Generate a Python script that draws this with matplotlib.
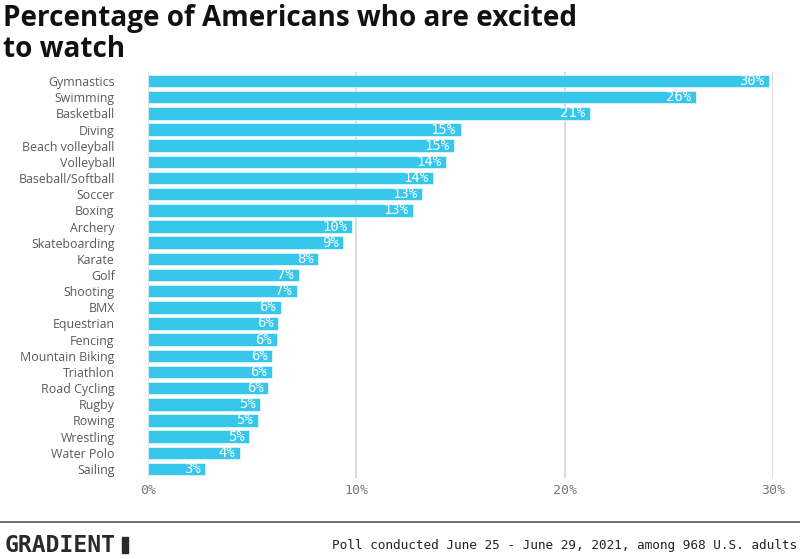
import matplotlib
matplotlib.use("Agg")
import matplotlib.pyplot as plt
from matplotlib.patches import Rectangle
from matplotlib.lines import Line2D

# --- data --------------------------------------------------------------------
sports = ["Gymnastics", "Swimming", "Basketball", "Diving", "Beach volleyball",
          "Volleyball", "Baseball/Softball", "Soccer", "Boxing", "Archery",
          "Skateboarding", "Karate", "Golf", "Shooting", "BMX", "Equestrian",
          "Fencing", "Mountain Biking", "Triathlon", "Road Cycling", "Rugby",
          "Rowing", "Wrestling", "Water Polo", "Sailing"]
excited = [29.8, 26.3, 21.2, 15.0, 14.7, 14.3, 13.7, 13.15, 12.7, 9.8,
           9.37, 8.18, 7.23, 7.13, 6.37, 6.26, 6.19, 5.97, 5.93, 5.76,
           5.38, 5.26, 4.87, 4.42, 2.74]
xticks = [0, 10, 20, 30]

BAR = "#37c6ec"
GREY = "#5a5a5a"
MONO = "DejaVu Sans Mono"

fig = plt.figure(figsize=(8, 5.59), dpi=100)
ax = fig.add_axes([0.185, 0.1449, 0.96625 - 0.185, 0.8712 - 0.1449])

ypos = list(range(len(sports)))
ax.barh(ypos, excited, height=0.78, color=BAR, edgecolor="white",
        linewidth=0.4, zorder=2)

# value labels inside the bar ends
for y, v in zip(ypos, excited):
    ax.text(v - 0.22, y, f"{round(v):d}%", ha="right", va="center",
            color="white", fontsize=10, family=MONO, zorder=3)

ax.set_xlim(0, 30)
ax.set_ylim(len(sports) - 1 + 0.557, -0.557)
ax.set_yticks(ypos)
ax.set_yticklabels(sports, fontsize=8.9, color=GREY, family="Open Sans")
ax.set_xticks(xticks)
ax.set_xticklabels([f"{t}%" for t in xticks], fontsize=9.5, color="#777777",
                   family=MONO)
ax.tick_params(axis="y", length=0, pad=24)
ax.tick_params(axis="x", length=0, pad=4)
for s in ax.spines.values():
    s.set_visible(False)
ax.grid(axis="x", color="#dcdcdc", linewidth=1.4, zorder=0)
ax.set_axisbelow(True)

# title
fig.text(0.004, 0.992, "Percentage of Americans who are excited\nto watch",
         ha="left", va="top", fontsize=20.1, fontweight="bold",
         family="Open Sans", color="#111111", linespacing=1.06)

# footer
fig.add_artist(Line2D([0, 1], [1 - 522 / 559] * 2, color="#555555",
                      linewidth=1.2, transform=fig.transFigure))
fig.text(0.006, 1 - 545 / 559, "GRADIENT", ha="left", va="center",
         fontsize=16.6, fontweight="bold", family=MONO, color="#2a2a2a")
fig.add_artist(Rectangle((122 / 800, 1 - 553 / 559), 6 / 800, 16 / 559,
                         color="#2a2a2a", transform=fig.transFigure))
fig.text(0.996, 1 - 545 / 559,
         "Poll conducted June 25 - June 29, 2021, among 968 U.S. adults",
         ha="right", va="center", fontsize=9.2, family=MONO, color="#222222")

fig.savefig("out.png", dpi=100)
